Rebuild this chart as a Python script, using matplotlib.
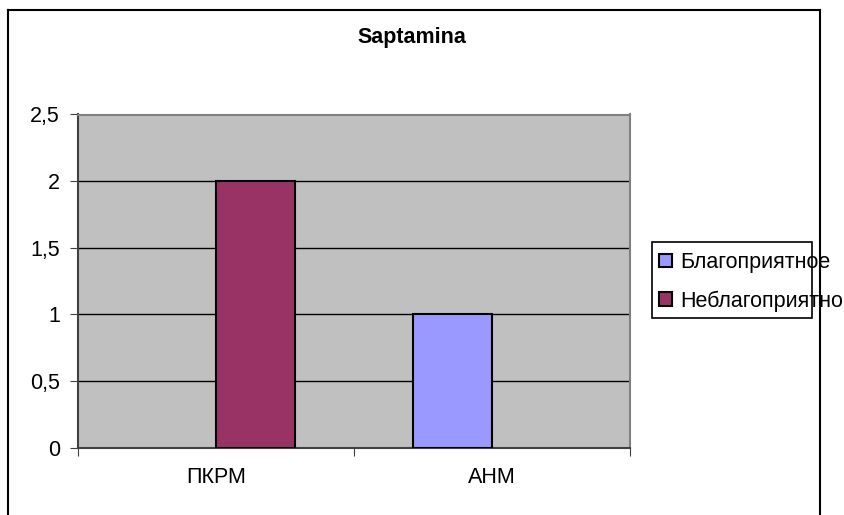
import numpy as np
import matplotlib.pyplot as plt
from matplotlib.lines import Line2D
from matplotlib.patches import Rectangle

# данные
categories = ["ПКРМ", "АНМ"]
series_names = ["Благоприятное", "Неблагоприятно"]
favorable = [0, 1]
unfavorable = [2, 0]
colors = ["#9999FF", "#993366"]
title = "Saptamina"

plt.rcParams['font.family'] = ['Liberation Sans', 'DejaVu Sans']
fs = 15.5

W, H = 844, 515
fig = plt.figure(figsize=(W / 100, H / 100), dpi=100)
fig.patch.set_facecolor("white")

# область построения (пиксели -> доли фигуры)
left, right, top, bottom = 78, 630, 114.5, 447.5
ax = fig.add_axes([left / W, 1 - bottom / H, (right - left) / W, (bottom - top) / H])
ax.set_facecolor("#C0C0C0")

x = np.arange(len(categories))
w = 1 / 3.5
b1 = ax.bar(x - w / 2, favorable, w, color=colors[0], edgecolor="black", linewidth=1.5,
            label=series_names[0], zorder=3)
b2 = ax.bar(x + w / 2, unfavorable, w, color=colors[1], edgecolor="black", linewidth=1.5,
            label=series_names[1], zorder=3)
for p in list(b1) + list(b2):
    if p.get_height() == 0:
        p.set_visible(False)

ax.set_xlim(-0.5, len(categories) - 0.5)
ax.set_ylim(0, 2.5)
yt = np.arange(0, 2.51, 0.5)
ax.set_yticks(yt)
ax.set_yticklabels([("%g" % v).replace(".", ",") for v in yt], fontsize=fs)
ax.yaxis.grid(True, color="black", linewidth=1)
ax.set_axisbelow(True)

# деления оси категорий на границах, подписи по центрам
ax.set_xticks(np.arange(-0.5, len(categories), 1.0))
ax.set_xticklabels([])
ax.set_xticks(x, minor=True)
ax.set_xticklabels(categories, minor=True, fontsize=fs)
ax.tick_params(axis="x", which="minor", length=0, pad=14)
ax.tick_params(axis="x", which="major", length=6, color="#404040")
ax.tick_params(axis="y", length=6, color="#404040", pad=7)

for s in ["top", "right"]:
    ax.spines[s].set_color("#808080")
    ax.spines[s].set_linewidth(1.5)
ax.spines["left"].set_color("#404040")
ax.spines["bottom"].set_color("#404040")
ax.spines["left"].set_linewidth(1.5)
ax.spines["bottom"].set_linewidth(1.5)

fig.text(412 / W, 1 - 38 / H, title, fontsize=fs, fontweight="bold", ha="center", va="center")

# легенда
leg = fig.legend(handles=[b1, b2], loc="upper left", bbox_to_anchor=(659 / W, 1 - 252 / H),
                 frameon=False, fontsize=fs, handlelength=0.6, handleheight=0.6,
                 handletextpad=0.4, labelspacing=0.8, borderpad=0, borderaxespad=0)
for h in leg.legend_handles:
    h.set_visible(True)
fig.add_artist(Rectangle((652 / W, 1 - 318 / H), 160 / W, 76 / H, transform=fig.transFigure,
                         fill=False, edgecolor="black", linewidth=1.2))

# рамка диаграммы
for xs, ys in [([8, 8], [10, H + 5]), ([8, 820], [10, 10]), ([820, 820], [10, H + 5])]:
    fig.add_artist(Line2D([v / W for v in xs], [1 - v / H for v in ys],
                          transform=fig.transFigure, color="black", linewidth=1.5))

fig.savefig("out.png", dpi=100)
